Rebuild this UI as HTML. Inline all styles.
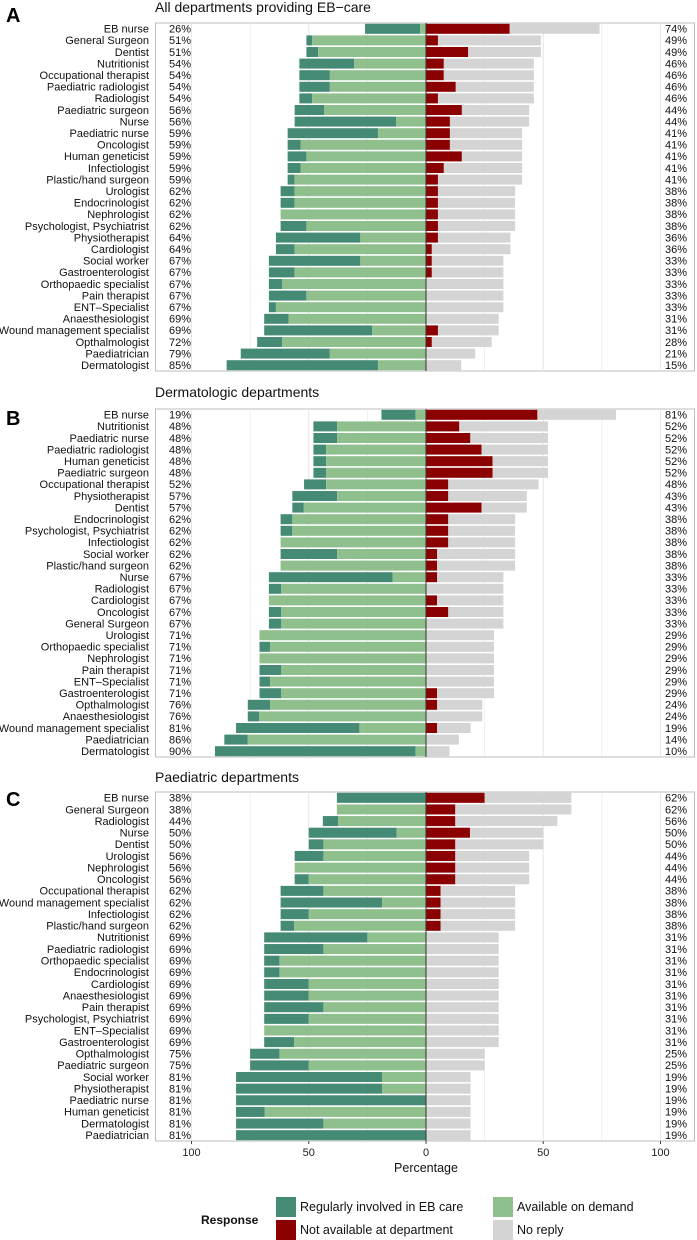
<!DOCTYPE html>
<html><head><meta charset="utf-8"><style>
html,body{margin:0;padding:0;background:#fff;}
svg{display:block;font-family:"Liberation Sans",sans-serif;}
</style></head><body>
<svg id="chart" width="697" height="1240" viewBox="0 0 697 1240" xmlns="http://www.w3.org/2000/svg"></svg>
<script>
// ---------- data ----------
const catsA = ["EB nurse","General Surgeon","Dentist","Nutritionist","Occupational therapist","Paediatric radiologist","Radiologist","Paediatric surgeon","Nurse","Paediatric nurse","Oncologist","Human geneticist","Infectiologist","Plastic/hand surgeon","Urologist","Endocrinologist","Nephrologist","Psychologist, Psychiatrist","Physiotherapist","Cardiologist","Social worker","Gastroenterologist","Orthopaedic specialist","Pain therapist","ENT\u2013Specialist","Anaesthesiologist","Wound management specialist","Opthalmologist","Paediatrician","Dermatologist"];
const leftA = [26,51,51,54,54,54,54,56,56,59,59,59,59,59,62,62,62,62,64,64,67,67,67,67,67,69,69,72,79,85];
const demandA = [2.5,48.6,46,30.6,41,41,48.6,43.5,12.7,20.4,53.5,51,53.5,56.1,56.1,56.1,62,51,28,56.1,28,56.1,61.4,51,64,58.6,22.9,61.4,41,20.4];
const notAvailA = [35.7,5.1,18,7.6,7.6,12.7,5.1,15.3,10.2,10.2,10.2,15.3,7.6,5.1,5.1,5.1,5.1,5.1,5.1,2.5,2.5,2.5,0,0,0,0,5.1,2.5,0,0];

const catsB = ["EB nurse","Nutritionist","Paediatric nurse","Paediatric radiologist","Human geneticist","Paediatric surgeon","Occupational therapist","Physiotherapist","Dentist","Endocrinologist","Psychologist, Psychiatrist","Infectiologist","Social worker","Plastic/hand surgeon","Nurse","Radiologist","Cardiologist","Oncologist","General Surgeon","Urologist","Orthopaedic specialist","Nephrologist","Pain therapist","ENT\u2013Specialist","Gastroenterologist","Opthalmologist","Anaesthesiologist","Wound management specialist","Paediatrician","Dermatologist"];
const leftB = [19,48,48,48,48,48,52,57,57,62,62,62,62,62,67,67,67,67,67,71,71,71,71,71,71,76,76,81,86,90];
const demandB = [4.5,37.9,37.9,42.6,42.6,42.6,42.6,37.9,52.1,57,57,62,37.9,62,14.2,61.7,67,61.7,61.7,71,66.5,71,61.7,66.5,61.7,66.5,71.2,28.4,76,4.5];
const notAvailB = [47.5,14.2,18.9,23.7,28.4,28.4,9.5,9.5,23.7,9.5,9.5,9.5,4.7,4.7,4.7,0,4.7,9.5,0,0,0,0,0,0,4.7,4.7,0,4.7,0,0];

const catsC = ["EB nurse","General Surgeon","Radiologist","Nurse","Dentist","Urologist","Nephrologist","Oncologist","Occupational therapist","Wound management specialist","Infectiologist","Plastic/hand surgeon","Nutritionist","Paediatric radiologist","Orthopaedic specialist","Endocrinologist","Cardiologist","Anaesthesiologist","Pain therapist","Psychologist, Psychiatrist","ENT\u2013Specialist","Gastroenterologist","Opthalmologist","Paediatric surgeon","Social worker","Physiotherapist","Paediatric nurse","Human geneticist","Dermatologist","Paediatrician"];
const leftC = [38,38,44,50,50,56,56,56,62,62,62,62,69,69,69,69,69,69,69,69,69,69,75,75,81,81,81,81,81,81];
const demandC = [0,38,37.5,12.5,43.75,43.75,56,50,43.75,18.75,50,56.25,25,43.75,62.5,62.5,50,50,43.75,50,69,56.25,62.5,50,18.75,18.75,0,68.75,43.75,0];
const notAvailC = [25,12.5,12.5,18.75,12.5,12.5,12.5,12.5,6.25,6.25,6.25,6.25,0,0,0,0,0,0,0,0,0,0,0,0,0,0,0,0,0,0];

const tickVals = [-100,-50,0,50,100];
const tickLabels = ["100","50","0","50","100"];
const gridVals = [-100,-75,-50,-25,25,50,75,100];

// ---------- layout ----------
const NS = "http://www.w3.org/2000/svg";
const svg = document.getElementById('chart');
const X0 = 426, PX = 2.345;
const x = v => X0 + v * PX;
const COL = {reg:"#448a74", dem:"#90bf8e", na:"#8b0000", nr:"#d4d4d4"};

function mk(tag, attrs, parent){
  const e = document.createElementNS(NS, tag);
  for (const k in attrs) e.setAttribute(k, attrs[k]);
  (parent||svg).appendChild(e);
  return e;
}
function txt(s, attrs, parent){ const t = mk('text', attrs, parent); t.textContent = s; return t; }

function panel(key, letter, title, titleY, letterY, top, bottom, cats, left, demand, notAvail){
  const g = mk('g', {});
  
  
  const t = txt(title, {x:155, y:titleY, 'font-size':14, fill:'#111'}, g);
  
  
  const l = txt(letter, {x:6, y:letterY, 'font-size':20, 'font-weight':'bold', fill:'#000'}, g);
  
  
  const bg = mk('rect', {x:155.5, y:top, width:539, height:bottom-top, fill:'#fff', stroke:'#bdbdbd', 'stroke-width':1}, g);
  
  
  gridVals.forEach(v => {
    const gl = mk('line', {x1:x(v), x2:x(v), y1:top, y2:bottom, stroke:'#e6e6e6', 'stroke-width': (v%50===0)?1:0.6}, g);
    
    
  });
  const n = cats.length, rh = (bottom - top) / n, bh = rh - 1.6;
  cats.forEach((c, i) => {
    const cy = top + (i + 0.5) * rh, y0 = cy - bh/2;
    const L = left[i], D = Math.min(demand[i], L), R = L - D, NA = notAvail[i], NR = 100 - L - NA;
    const segs = [
      ['bar-regular', -L, R, COL.reg],
      ['bar-on-demand', -D, D, COL.dem],
      ['bar-not-available', 0, NA, COL.na],
      ['bar-no-reply', NA, NR, COL.nr]
    ];
    segs.forEach(s => {
      if (s[2] <= 0) return;
      const r = mk('rect', {x:x(s[1]), y:y0, width:s[2]*PX, height:bh, fill:s[3]}, g);
      
      
    });
    const cl = txt(c, {x:149, y:cy+3.8, 'font-size':11, 'text-anchor':'end', fill:'#111'}, g);
    
    
    const lp = txt(L + '%', {x:169, y:cy+3.8, 'font-size':11, fill:'#111'}, g);
    
    
    const rp = txt((100 - L) + '%', {x:687, y:cy+3.8, 'font-size':11, 'text-anchor':'end', fill:'#111'}, g);
    
    
  });
  const zl = mk('line', {x1:X0, x2:X0, y1:top, y2:bottom, stroke:'#333', 'stroke-width':1}, g);
  
  
}

panel('a', 'A', 'All departments providing EB\u2212care', 12, 22, 23, 371, catsA, leftA, demandA, notAvailA);
panel('b', 'B', 'Dermatologic departments', 397, 425, 409, 757, catsB, leftB, demandB, notAvailB);
panel('c', 'C', 'Paediatric departments', 782, 806, 792, 1141, catsC, leftC, demandC, notAvailC);

// x axis
tickVals.forEach((v, i) => {
  const tk = mk('line', {x1:x(v), x2:x(v), y1:1141, y2:1144, stroke:'#444'});
  
  
  const tl = txt(tickLabels[i], {x:x(v), y:1156, 'font-size':11, 'text-anchor':'middle', fill:'#222'});
  
  
});
const xt = txt('Percentage', {x:426, y:1172, 'font-size':12.5, 'text-anchor':'middle', fill:'#111'});



// legend
const lg = mk('g', {});


const lt = txt('Response', {x:201, y:1224, 'font-size':12, 'font-weight':'bold', fill:'#111'}, lg);


const legItems = [
  ['Regularly involved in EB care', COL.reg, 276, 1197],
  ['Available on demand', COL.dem, 493, 1197],
  ['Not available at department', COL.na, 276, 1220],
  ['No reply', COL.nr, 493, 1220]
];
legItems.forEach(it => {
  const k = mk('rect', {x:it[2], y:it[3], width:20, height:20, fill:it[1]}, lg);
  
  
  const tt = txt(it[0], {x:it[2]+24, y:it[3]+14, 'font-size':12.5, fill:'#111'}, lg);
  
  
});
</script>
</body></html>
